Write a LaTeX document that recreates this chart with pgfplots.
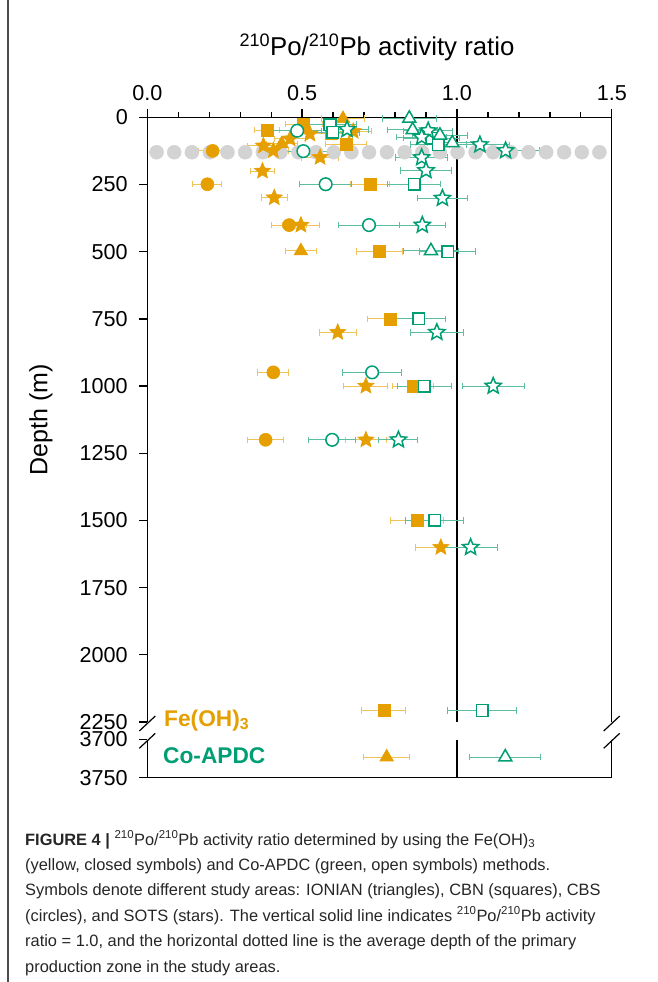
\documentclass[border=0pt]{standalone}
\usepackage{fontspec}
\setmainfont{Liberation Sans}
\usepackage{pgfplots}
\pgfplotsset{compat=1.18}
\usepackage{pgfplotstable}
\definecolor{feor}{HTML}{E69F00}
\definecolor{cogr}{HTML}{009E73}
\definecolor{febar}{HTML}{F0C35A}
\definecolor{cobar}{HTML}{5DBE9F}
\definecolor{dotgrey}{HTML}{D3D3D3}

\pgfdeclareplotmark{pstar}{%
  \pgfpathmoveto{\pgfpointpolar{90}{\pgfplotmarksize}}%
  \pgfpathlineto{\pgfpointpolar{126}{0.45\pgfplotmarksize}}%
  \pgfpathlineto{\pgfpointpolar{162}{\pgfplotmarksize}}%
  \pgfpathlineto{\pgfpointpolar{198}{0.45\pgfplotmarksize}}%
  \pgfpathlineto{\pgfpointpolar{234}{\pgfplotmarksize}}%
  \pgfpathlineto{\pgfpointpolar{270}{0.45\pgfplotmarksize}}%
  \pgfpathlineto{\pgfpointpolar{306}{\pgfplotmarksize}}%
  \pgfpathlineto{\pgfpointpolar{342}{0.45\pgfplotmarksize}}%
  \pgfpathlineto{\pgfpointpolar{18}{\pgfplotmarksize}}%
  \pgfpathlineto{\pgfpointpolar{54}{0.45\pgfplotmarksize}}%
  \pgfpathclose
  \pgfusepathqfillstroke
}

\pgfplotstableread{
x y ex
0.632 5 0.07
0.434 99 0.05
0.496 497 0.049
}\FeTri
\pgfplotstableread{
x y ex
0.773 3723 0.075
}\FeTriLow
\pgfplotstableread{
x y ex
0.505 25 0.06
0.386 48 0.04
0.595 60 0.06
0.641 100 0.067
0.719 249 0.062
0.749 500 0.075
0.786 750 0.075
0.859 1000 0.066
0.871 1500 0.085
0.764 2207 0.071
}\FeSq
\pgfplotstableread{
x y ex
0.211 125 0.047
0.194 249 0.047
0.458 401 0.056
0.407 949 0.05
0.382 1200 0.059
}\FeCirc
\pgfplotstableread{
x y ex
0.665 52 0.06
0.525 62 0.05
0.461 80 0.05
0.375 106 0.05
0.407 124 0.05
0.558 149 0.06
0.372 200 0.038
0.410 299 0.042
0.496 401 0.06
0.615 800 0.06
0.706 1000 0.071
0.706 1200 0.065
0.948 1600 0.083
}\FeStar
\pgfplotstableread{
x y ex
0.846 4 0.087
0.857 47 0.08
0.945 67 0.09
0.985 95 0.09
0.916 497 0.09
}\CoTri
\pgfplotstableread{
x y ex
1.156 3723 0.114
}\CoTriLow
\pgfplotstableread{
x y ex
0.590 27 0.086
0.599 56 0.086
0.918 78 0.09
0.940 101 0.09
0.862 249 0.085
0.970 500 0.09
0.876 750 0.086
0.894 1000 0.087
0.928 1500 0.094
1.081 2207 0.112
}\CoSq
\pgfplotstableread{
x y ex
0.484 50 0.078
0.504 126 0.08
0.576 249 0.083
0.716 401 0.1
0.726 949 0.095
0.597 1200 0.076
}\CoCirc
\pgfplotstableread{
x y ex
0.645 45 0.07
0.907 50 0.08
0.886 74 0.08
1.074 102 0.097
1.157 124 0.11
0.886 150 0.084
0.900 198 0.081
0.953 301 0.082
0.888 401 0.075
0.935 800 0.086
1.117 1000 0.1
0.811 1200 0.063
1.044 1600 0.086
}\CoStar

\pgfplotsset{
  frame/.style={
    scale only axis, width=464.5pt,
    xmin=0, xmax=1.5, y dir=reverse,
    axis y line*=left,
    axis line style={-, line width=1.3pt, black},
    tick align=outside, tick style={line width=1.3pt, black},
    major tick length=8pt, minor tick length=5pt,
    tick label style={font=\fontsize{21.6}{24}\selectfont},
    xticklabel style={yshift=5pt},
    yticklabel style={xshift=-8pt},
    /pgf/number format/assume math mode=true,
    clip=false,
  },
  fe/.style={only marks, color=feor,
    mark options={solid, fill=feor, draw=feor, line width=0.6pt},
    error bars/x dir=both, error bars/x explicit,
    error bars/error bar style={line width=1pt, febar},
    error bars/error mark options={line width=1pt, febar, mark size=3.2pt, rotate=90}},
  co/.style={only marks, color=cogr,
    mark options={solid, fill=white, draw=cogr, line width=1.5pt},
    error bars/x dir=both, error bars/x explicit,
    error bars/error bar style={line width=1pt, cobar},
    error bars/error mark options={line width=1pt, cobar, mark size=3.2pt, rotate=90}},
}

\begin{document}
\begin{tikzpicture}[x=1pt,y=1pt]
\useasboundingbox (0,0) rectangle (657,-982);
\fill[white] (0,0) rectangle (657,-982);
\draw[line width=1.5pt, black!70] (8,0) -- (8,-982);

\begin{axis}[frame,
  at={(147.3pt,-117.3pt)}, anchor=north west, height=604.7pt,
  ymin=0, ymax=2250,
  axis x line*=top,
  xtick={0,0.5,1,1.5}, xticklabels={0.0,0.5,1.0,1.5},
  minor xtick={0.1,0.2,0.3,0.4,0.6,0.7,0.8,0.9,1.1,1.2,1.3,1.4},
  ytick={0,250,500,750,1000,1250,1500,1750,2000,2250},
  yticklabels={0,250,500,750,1000,1250,1500,1750,2000,2250},
]
\addplot[only marks, mark=*, mark size=7pt, color=dotgrey, mark options={draw=dotgrey, fill=dotgrey}] coordinates {
(0.030,130) (0.087,130) (0.144,130) (0.202,130) (0.259,130) (0.316,130) (0.373,130)
(0.430,130) (0.488,130) (0.545,130) (0.602,130) (0.659,130) (0.716,130) (0.774,130)
(0.831,130) (0.888,130) (0.945,130) (1.002,130) (1.060,130) (1.117,130) (1.174,130)
(1.231,130) (1.288,130) (1.346,130) (1.403,130) (1.460,130)};
\addplot[black, line width=1.3pt, no marks] coordinates {(1,0) (1,2250)};
\addplot[black, line width=1.3pt, no marks] coordinates {(1.5,0) (1.5,2250)};

\addplot[fe, mark=square*, mark size=6pt] table[x=x,y=y,x error=ex] {\FeSq};
\addplot[fe, mark=*, mark size=6.5pt] table[x=x,y=y,x error=ex] {\FeCirc};
\addplot[fe, mark=triangle*, mark size=7.8pt] table[x=x,y=y,x error=ex] {\FeTri};
\addplot[fe, mark=pstar, mark size=8.5pt] table[x=x,y=y,x error=ex] {\FeStar};

\addplot[co, mark=square*, mark size=5.8pt] table[x=x,y=y,x error=ex] {\CoSq};
\addplot[co, mark=*, mark size=6.3pt] table[x=x,y=y,x error=ex] {\CoCirc};
\addplot[co, mark=triangle*, mark size=7.5pt] table[x=x,y=y,x error=ex] {\CoTri};
\addplot[co, mark=pstar, mark size=8.5pt] table[x=x,y=y,x error=ex] {\CoStar};
\end{axis}

\begin{axis}[frame,
  at={(147.3pt,-777.7pt)}, anchor=south west, height=38.2pt,
  ymin=3700, ymax=3750,
  axis x line*=bottom, xtick=\empty,
  ytick={3700,3750}, yticklabels={3700,3750},
]
\addplot[black, line width=1.3pt, no marks] coordinates {(1,3700) (1,3750)};
\addplot[black, line width=1.3pt, no marks] coordinates {(1.5,3700) (1.5,3750)};
\addplot[fe, mark=triangle*, mark size=7.8pt] table[x=x,y=y,x error=ex] {\FeTriLow};
\addplot[co, mark=triangle*, mark size=7.5pt] table[x=x,y=y,x error=ex] {\CoTriLow};
\end{axis}

% axis break marks
\draw[line width=1.2pt] (139.3,-731) -- (155.3,-716);
\draw[line width=1.2pt] (139.3,-748.3) -- (155.3,-733.3);
\draw[line width=1.2pt] (603.7,-731) -- (619.7,-716);
\draw[line width=1.2pt] (603.7,-748.3) -- (619.7,-733.3);

% titles
\node[anchor=base, font=\fontsize{25.8}{29}\selectfont, inner sep=0] at (377,-56)
  {\textsuperscript{210}Po/\textsuperscript{210}Pb activity ratio};
\node[rotate=90, font=\fontsize{25}{28}\selectfont, inner sep=0] at (41,-420) {Depth (m)};

% legend texts
\node[anchor=base west, inner sep=0, text=feor, font=\fontsize{22.7}{26}\selectfont\bfseries] at (164,-726) {Fe(OH)\textsubscript{3}};
\node[anchor=base west, inner sep=0, text=cogr, font=\fontsize{22.7}{26}\selectfont\bfseries] at (163,-763) {Co-APDC};

% caption
\begin{scope}[every node/.style={anchor=base west, inner sep=0, font=\fontsize{16.4}{19}\selectfont, text=black!85}]
\node at (25,-845) {\textbf{FIGURE 4 |} \textsuperscript{210}Po/\textsuperscript{210}Pb activity ratio determined by using the Fe(OH)\textsubscript{3}};
\node at (25,-870.4) {(yellow, closed symbols) and Co-APDC (green, open symbols) methods.};
\node at (25,-895.8) {Symbols denote different study areas: IONIAN (triangles), CBN (squares), CBS};
\node at (25,-921.2) {(circles), and SOTS (stars). The vertical solid line indicates \textsuperscript{210}Po/\textsuperscript{210}Pb activity};
\node at (25,-946.6) {ratio = 1.0, and the horizontal dotted line is the average depth of the primary};
\node at (25,-972) {production zone in the study areas.};
\end{scope}
\end{tikzpicture}
\end{document}
